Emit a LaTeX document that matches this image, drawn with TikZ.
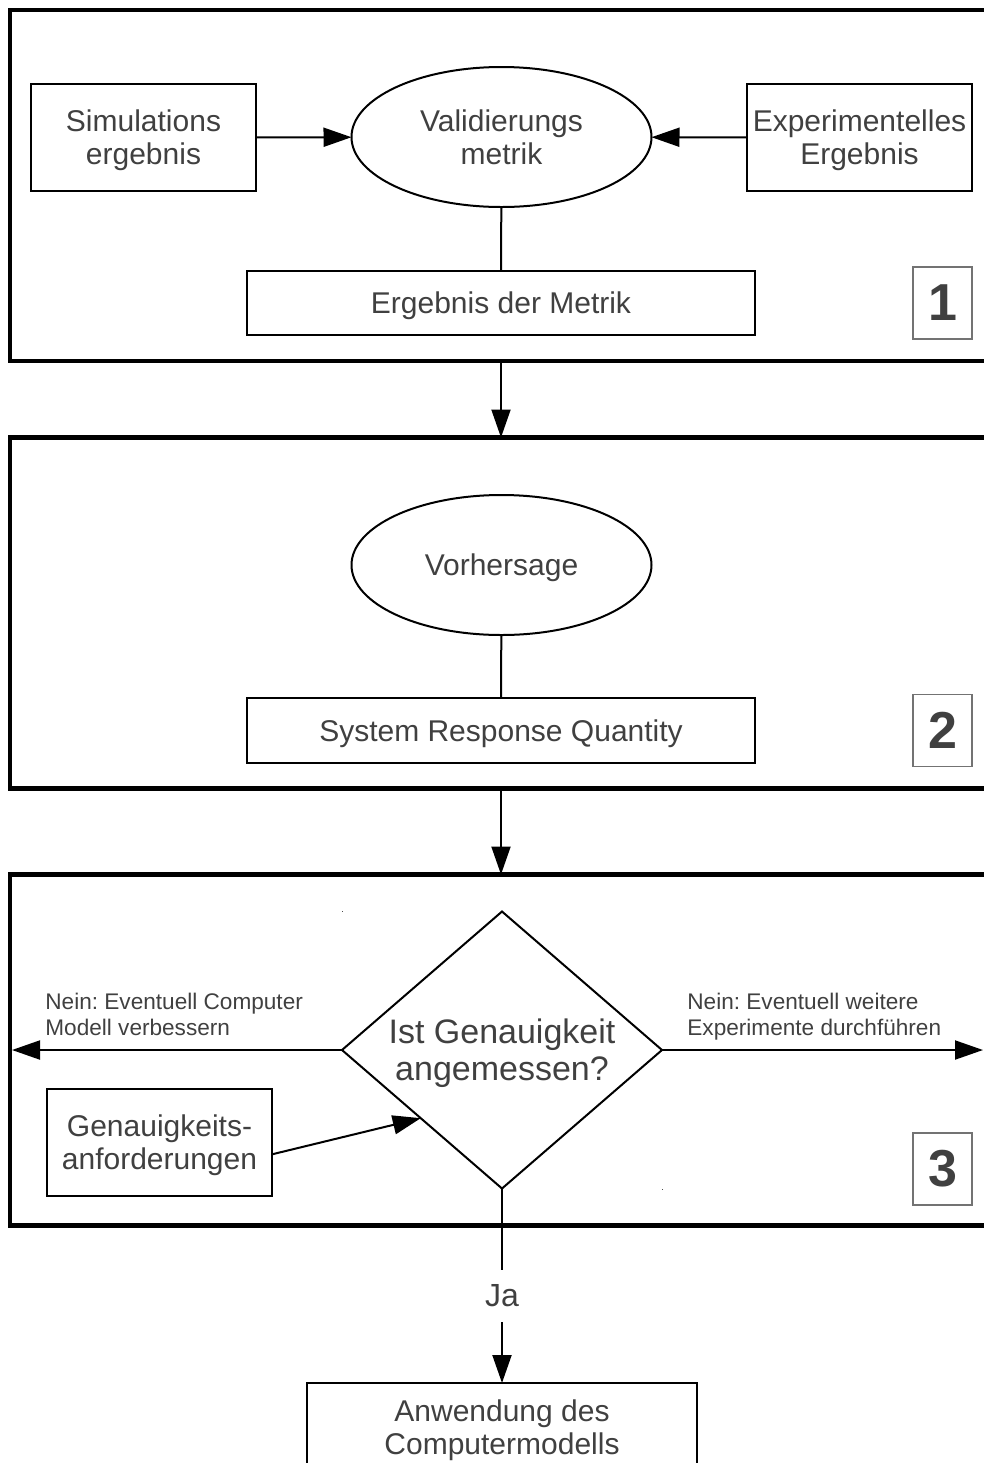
\documentclass[tikz,border=0pt]{standalone}
\usepackage{fontspec}
\setmainfont{Liberation Sans}
\usetikzlibrary{shapes.geometric,arrows.meta}
\frenchspacing

\definecolor{txtgray}{HTML}{404040}

\tikzset{
  stage/.style={draw, line width=2.4pt, minimum width=500pt, minimum height=175.5pt,
    anchor=north west, inner sep=0pt, outer sep=0pt},
  box/.style={draw, line width=1pt, inner sep=0pt, outer sep=0pt, align=center,
    text depth=0pt, text=txtgray, font=\fontsize{15pt}{16.5pt}\selectfont},
  oval/.style={box, ellipse, minimum width=150pt, minimum height=70pt},
  decision/.style={box, diamond, aspect=1.155, minimum width=160pt, minimum height=138.5pt,
    font=\fontsize{17pt}{18.5pt}\selectfont},
  numbox/.style={draw=black!55, line width=0.6pt, minimum width=29.5pt, minimum height=36pt,
    inner sep=0pt, text=txtgray, font=\fontsize{26pt}{26pt}\selectfont\bfseries},
  note/.style={align=left, anchor=north west, inner sep=0pt, text=txtgray,
    font=\fontsize{11.3pt}{13pt}\selectfont},
  conn/.style={line width=1pt},
  arr/.style={line width=1pt, -{Triangle[length=14pt,width=9.5pt]}}
}

\begin{document}
\begin{tikzpicture}[x=0.5pt, y=-0.5pt]
\useasboundingbox (0,0) rectangle (984,1463);
\clip (0,0) rectangle (984,1463);

    % Stages
    \node[stage] (stageA) at (10,10) {};
    \node[stage] (stageB) at (10,437.5) {};
    \node[stage] (stageC) at (10,874.5) {};

    % Stage 1
    \node[box, minimum width=112.5pt, minimum height=53.5pt] (sim) at (143.5,137.5) {Simulations\\ergebnis};
    \node[oval] (val) at (501.5,137) {Validierungs\\metrik};
    \node[box, minimum width=112.5pt, minimum height=53.5pt] (exp) at (859.5,137.5) {Experimentelles\\Ergebnis};
    \node[box, minimum width=254pt, minimum height=32pt] (erg) at (501,303) {Ergebnis der Metrik};
    \node[numbox] (numA) at (942.5,303) {1};

    \draw[arr] (sim) -- (val);
    \draw[arr] (exp) -- (val);
    \draw[conn] (val) -- (erg);

    % Stage 2
    \node[oval] (vor) at (501.5,565) {Vorhersage};
    \node[box, minimum width=254pt, minimum height=32.5pt] (srq) at (501,730.5) {System Response Quantity};
    \node[numbox] (numB) at (942.5,730.5) {2};

    \draw[conn] (vor) -- (srq);

    % Stage 3
    \node[decision] (dec) at (502,1050) {Ist Genauigkeit\\angemessen?};
    \node[box, minimum width=112.5pt, minimum height=53.5pt] (gen) at (159.5,1142.5) {Genauigkeits-\\anforderungen};
    \node[numbox] (numC) at (942.5,1169) {3};
    \coordinate (lend) at (12,1050);
    \coordinate (rend) at (983,1050);

    \draw[arr] (dec.west) -- (lend);
    \draw[arr] (dec.east) -- (rend);
    \draw[arr] (gen.-6.3) -- (dec.220);

    \node[note] (noA) at (45,993) {Nein: Eventuell Computer\\Modell verbessern};
    \node[note] (noB) at (687,993) {Nein: Eventuell weitere\\Experimente durchf\"uhren};

    % marks at the corners of the decision
    \fill[black!70] (341.5,910.5) rectangle (343,912);
    \fill[black!70] (661.5,1188.5) rectangle (663,1190);

    % Between the stages
    \draw[arr] (stageA.south -| erg.south) -- (stageB.north -| erg.south);
    \draw[arr] (stageB.south -| srq.south) -- (stageC.north -| srq.south);

    % Result
    \node[box, minimum width=195pt, minimum height=44pt] (app) at (502,1427) {Anwendung des\\Computermodells};
    \node[inner sep=0pt, minimum height=26pt, text=txtgray, font=\fontsize{16pt}{17.5pt}\selectfont] (ja) at (502,1296) {Ja};

    \draw[conn] (dec.south) -- (ja.north);
    \draw[arr] (ja.south) -- (app.north);
\end{tikzpicture}
\end{document}
